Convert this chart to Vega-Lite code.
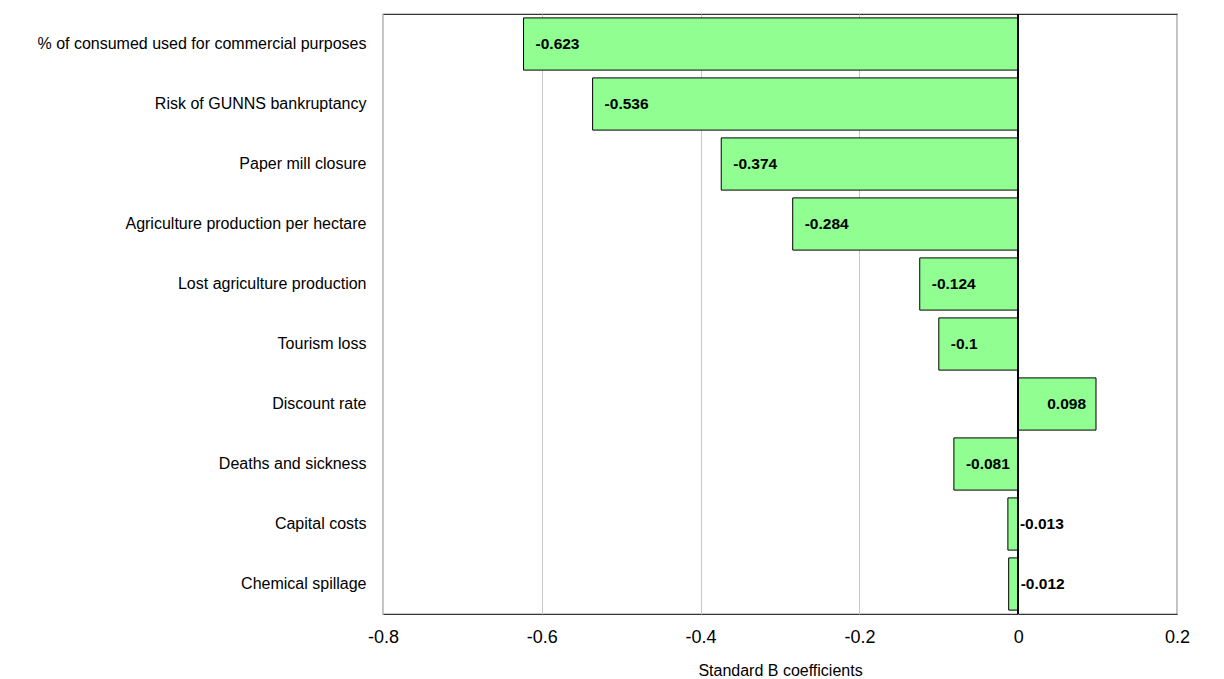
{
  "$schema": "https://vega.github.io/schema/vega-lite/v6.json",
  "autosize": {"type": "none"},
  "padding": {"left": 383, "top": 14, "right": 47, "bottom": 65},
  "width": 794,
  "height": 600,
  "background": "white",
  "config": {
    "font": "Liberation Sans",
    "view": {"stroke": "#333333", "strokeWidth": 1.2}
  },
  "data": {
    "values": [
      {"factor": "% of consumed used for commercial purposes", "coef": -0.623},
      {"factor": "Risk of GUNNS bankruptancy", "coef": -0.536},
      {"factor": "Paper mill closure", "coef": -0.374},
      {"factor": "Agriculture production per hectare", "coef": -0.284},
      {"factor": "Lost agriculture production", "coef": -0.124},
      {"factor": "Tourism loss", "coef": -0.1},
      {"factor": "Discount rate", "coef": 0.098},
      {"factor": "Deaths and sickness", "coef": -0.081},
      {"factor": "Capital costs", "coef": -0.013},
      {"factor": "Chemical spillage", "coef": -0.012}
    ]
  },
  "encoding": {
    "y": {
      "field": "factor",
      "type": "nominal",
      "sort": null,
      "scale": {"paddingInner": 0.13, "paddingOuter": 0.065},
      "axis": {
        "title": null,
        "ticks": false,
        "domain": false,
        "labelFontSize": 16,
        "labelColor": "black",
        "labelPadding": 17,
        "labelLimit": 400
      }
    }
  },
  "layer": [
    {
      "mark": {"type": "bar", "fill": "#90fe90", "stroke": "black", "strokeWidth": 1},
      "encoding": {
        "x": {
          "field": "coef",
          "type": "quantitative",
          "scale": {"domain": [-0.8, 0.2], "nice": false, "zero": false},
          "axis": {
            "title": "Standard B coefficients",
            "titleFontSize": 16,
            "titleFontWeight": "normal",
            "titleColor": "black",
            "titlePadding": 16,
            "values": [-0.8, -0.6, -0.4, -0.2, 0, 0.2],
            "labelExpr": "toString(datum.value)",
            "labelFontSize": 18,
            "labelColor": "black",
            "labelPadding": 14,
            "ticks": false,
            "domain": false,
            "grid": true,
            "gridColor": "#c8c8c8",
            "gridWidth": 1,
            "labelFlush": false
          }
        },
        "x2": {"datum": 0}
      }
    },
    {
      "mark": {"type": "rule", "color": "black", "strokeWidth": 1},
      "encoding": {"x": {"datum": 0}, "y": null}
    },
    {
      "transform": [{"filter": "datum.coef < 0"}],
      "mark": {"type": "text", "align": "left", "dx": 12, "fontWeight": "bold", "fontSize": 15.5, "color": "black"},
      "encoding": {
        "x": {"field": "coef", "type": "quantitative"},
        "text": {"field": "coef", "type": "nominal"}
      }
    },
    {
      "transform": [{"filter": "datum.coef > 0"}],
      "mark": {"type": "text", "align": "right", "dx": -10, "fontWeight": "bold", "fontSize": 15.5, "color": "black"},
      "encoding": {
        "x": {"field": "coef", "type": "quantitative"},
        "text": {"field": "coef", "type": "nominal"}
      }
    }
  ]
}
